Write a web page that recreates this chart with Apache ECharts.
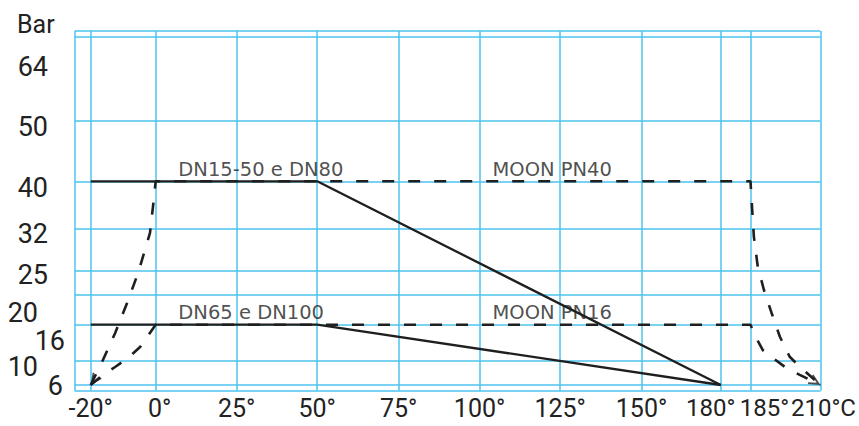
<!DOCTYPE html>
<html><head><meta charset="utf-8">
<script src="https://cdn.jsdelivr.net/npm/echarts@6/dist/echarts.min.js"></script>
<style>html,body{margin:0;padding:0;background:#fff}#c{width:859px;height:426px}</style>
</head><body><div id="c"></div>
<script>
// ---------- data ----------
const xTicks = [-20, 0, 25, 50, 75, 100, 125, 150, 180, 185, 210];
const xTickLabels = ['-20°', '0°', '25°', '50°', '75°', '100°', '125°', '150°', '180°', '185°', '210°C'];
const yTicks = [6, 10, 16, 20, 25, 32, 40, 50, 64];
const yTickLabels = ['6', '10', '16', '20', '25', '32', '40', '50', '64'];
const yName = 'Bar';

// solid lines (DN series)
const solidDN15 = [[-20, 40], [50, 40], [180, 6]];
const solidDN65 = [[-20, 16], [50, 16], [180, 6]];
// dashed lines (MOON series)
const dashedPN40 = [[-20, 6], [-16.2, 10.2], [-12.5, 14.6], [-8.8, 18.9], [-5.4, 24.6], [-1.75, 31.3], [-0.5, 37.3], [0, 40],
  [185, 40], [185.4, 36.8], [186.2, 30.7], [187.6, 25.7], [189.8, 21], [192.5, 17.6], [195.5, 14], [199, 10.7], [202.6, 9.05], [210, 6]];
const dashedPN16 = [[-20, 6], [-17.1, 7.3], [-12.5, 9], [-8.5, 10.5], [-4.8, 12.3], [0, 16],
  [185, 16], [187.1, 13.75], [189.4, 11.8], [193, 10.5], [197.9, 8.8], [202.6, 7.7], [210, 6]];
const arrowTips = [[-20, 6], [210, 6]];
const arrowDirDeg = [235, 330];   // direction the arrowheads point to
const annotationText = ['DN15-50 e DN80', 'MOON PN40', 'DN65 e DN100', 'MOON PN16'];
const annotationAt = [[7, 40], [104, 40], [7, 16], [104, 16]];

// ---------- layout of the uneven scales ----------
const xTickPos = [16, 81, 162, 242.6, 324, 405, 485.6, 567, 646.3, 676, 746];
const xSpan = 746;
const yTickPos = [5.7, 29.7, 66, 96, 119.7, 162, 209.4, 269.7, 354];
const ySpan = 359.7;
const yLabelPos = [4.7, 24, 49.7, 77.7, 115.7, 156.7, 203, 264, 324];
const yLabelPad = [2, 27, 0, 27, 17, 17, 17, 17, 17];
const xLabelPad = [[0,0],[8,0],[0,0],[0,0],[0,0],[0,0],[0,0],[0,0],[0,20],[28,0],[6,0]];
const xLabelSize = [25, 25, 25, 25, 25, 25, 25, 25, 24, 24, 24];
// labels placed on a second axis so that they are not hidden by the min/max overlap rule
const xAltIdx = [9];
const yAltIdx = [1];

function interp(v, ticks, pos) {
  let i = 0;
  if (v <= ticks[0]) i = 0;
  else if (v >= ticks[ticks.length - 1]) i = ticks.length - 2;
  else { while (v > ticks[i + 1]) i++; }
  const t = (v - ticks[i]) / (ticks[i + 1] - ticks[i]);
  return pos[i] + t * (pos[i + 1] - pos[i]);
}
const toXY = p => [interp(p[0], xTicks, xTickPos), interp(p[1], yTicks, yTickPos)];
const findIdx = (v, arr) => arr.findIndex(a => Math.abs(a - v) < 0.05);

const gridColor = '#4cc3ee';
const inkColor = '#1f1f1f';
const textColor = '#222';
const axisFont = "Roboto, 'Liberation Sans', sans-serif";
const chevron = 'path://M0,11 L5,0 L10,11 L8.4,11.7 L5,4.2 L1.6,11.7 Z';
const arrowH = 12;

const yRich = {}; yLabelPad.forEach((p, i) => { yRich['y' + i] = { padding: [0, p, 0, 0], fontSize: 27, lineHeight: 27, fontFamily: axisFont, color: textColor }; });
const xRich = {}; xLabelPad.forEach((p, i) => { xRich['x' + i] = { padding: [0, p[1], 0, p[0]], fontSize: xLabelSize[i], lineHeight: 27, fontFamily: axisFont, color: textColor }; });

const xFmt = v => { const i = findIdx(v, xTickPos); return i < 0 ? '' : '{x' + i + '|' + xTickLabels[i] + '}'; };
const yFmt = v => { const i = findIdx(v, yLabelPos); return i < 0 ? '' : '{y' + i + '|' + yTickLabels[i] + '}'; };
const xMain = xTickPos.filter((p, i) => !xAltIdx.includes(i));
const xAlt = xAltIdx.map(i => xTickPos[i]);
const yMain = yLabelPos.filter((p, i) => !yAltIdx.includes(i));
const yAlt = yAltIdx.map(i => yLabelPos[i]);

const hidden = { axisLine: { show: false }, axisTick: { show: false }, splitLine: { show: false } };

// arrowhead: rotate the upward chevron to the direction, shift so its tip sits on the end point
const arrowData = arrowTips.map((p, i) => {
  const a = arrowDirDeg[i] * Math.PI / 180;
  return { value: toXY(p), symbolRotate: arrowDirDeg[i] - 90,
           symbolOffset: [-(arrowH / 2) * Math.cos(a), (arrowH / 2) * Math.sin(a)] };
});

const chart = echarts.init(document.getElementById('c'), null, { renderer: 'svg' });
chart.setOption({
  animation: false,
  backgroundColor: '#fff',
  grid: { left: 74.7, right: 38.3, top: 31, bottom: 35.3, containLabel: false },
  xAxis: [{
    type: 'value', min: 0, max: xSpan, position: 'bottom',
    axisLine: { show: false },
    axisTick: { show: false, customValues: [0].concat(xTickPos) },
    splitLine: { show: true, lineStyle: { color: gridColor, width: 1.5 } },
    axisLabel: { customValues: xMain, margin: 4, showMinLabel: true, showMaxLabel: true, formatter: xFmt, rich: xRich }
  }, Object.assign({
    type: 'value', min: 0, max: xSpan, position: 'bottom',
    axisLabel: { customValues: xAlt, margin: 4, formatter: xFmt, rich: xRich }
  }, hidden)],
  yAxis: [{
    type: 'value', min: 0, max: ySpan, position: 'left',
    name: yName, nameLocation: 'end', nameGap: -6,
    nameTextStyle: { fontSize: 25, fontFamily: axisFont, color: textColor, align: 'right', verticalAlign: 'bottom', padding: [0, 20, 0, 0] },
    axisLine: { show: false },
    axisTick: { show: false, customValues: [0].concat(yTickPos, [ySpan]) },
    splitLine: { show: true, lineStyle: { color: gridColor, width: 1.5 } },
    axisLabel: { customValues: yMain, margin: 9.7, showMinLabel: true, showMaxLabel: true, formatter: yFmt, rich: yRich }
  }, Object.assign({
    type: 'value', min: 0, max: ySpan, position: 'left',
    axisLabel: { customValues: yAlt, margin: 9.7, formatter: yFmt, rich: yRich }
  }, hidden)],
  series: [
    { name: 'DN15-50 e DN80', type: 'line', data: solidDN15.map(toXY), symbol: 'none', lineStyle: { color: inkColor, width: 2.3 }, z: 3 },
    { name: 'DN65 e DN100', type: 'line', data: solidDN65.map(toXY), symbol: 'none', lineStyle: { color: inkColor, width: 2.3 }, z: 3 },
    { name: 'MOON PN40', type: 'line', data: dashedPN40.map(toXY), symbol: 'none', clip: false, lineStyle: { color: inkColor, width: 2.6, type: [12, 14] }, z: 4 },
    { name: 'MOON PN16', type: 'line', data: dashedPN16.map(toXY), symbol: 'none', clip: false, lineStyle: { color: inkColor, width: 2.6, type: [12, 14] }, z: 4 },
    { name: 'arrows', type: 'scatter', symbol: chevron, symbolSize: [11, arrowH], clip: false, silent: true,
      itemStyle: { color: inkColor }, data: arrowData, z: 5 },
    { name: 'labels', type: 'scatter', symbolSize: 0, silent: true,
      data: annotationAt.map((p, i) => ({ value: toXY(p), name: annotationText[i] })),
      label: { show: true, position: 'insideBottomLeft', distance: 0, formatter: '{b}', color: textColor, fontSize: 19.5,
               fontFamily: "'DejaVu Sans', sans-serif", align: 'left', verticalAlign: 'bottom', offset: [0, -2] }, z: 6 }
  ]
});
</script></body></html>
